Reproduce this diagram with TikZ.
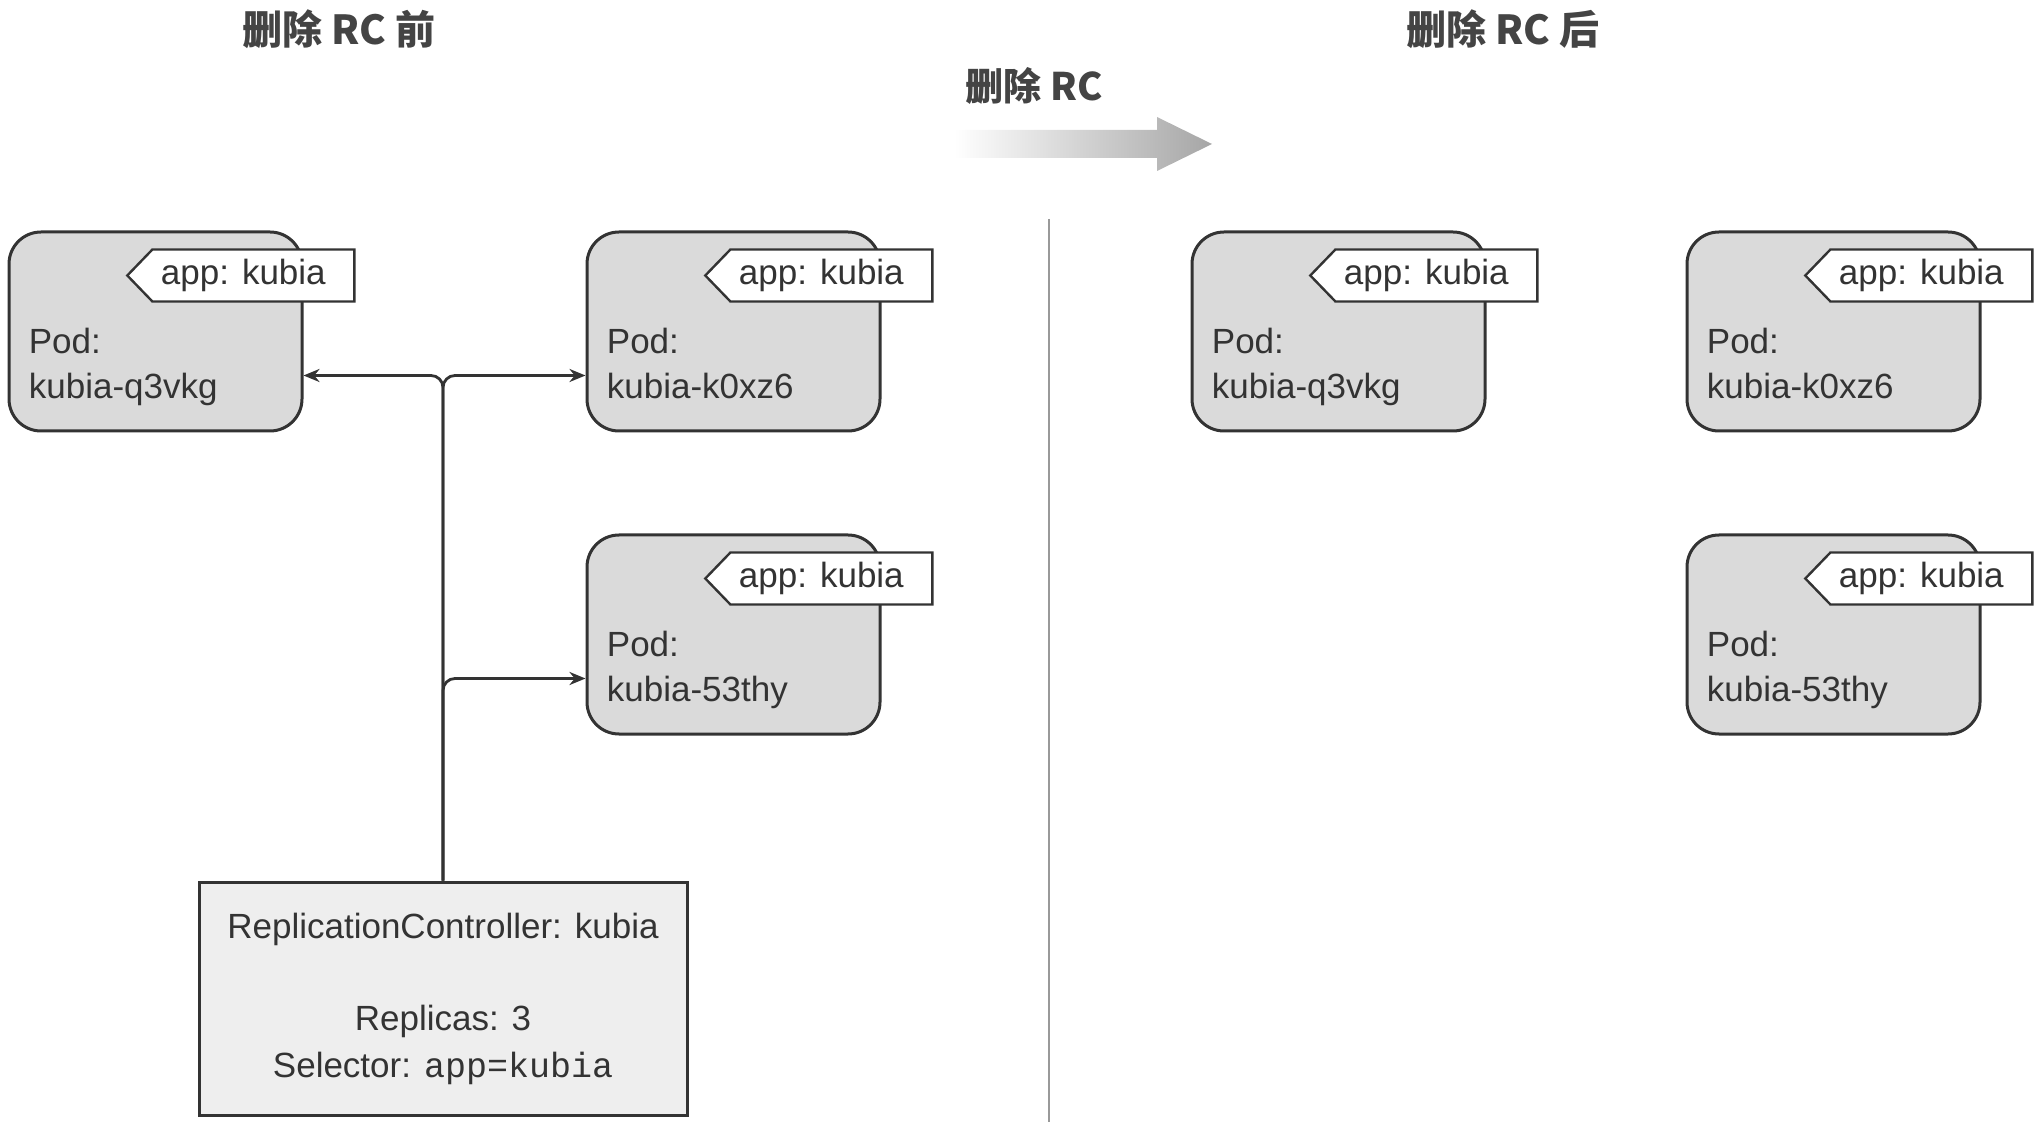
\documentclass[tikz,border=0pt]{standalone}
\usepackage{fontspec}
\setmainfont{Liberation Sans}
\setmonofont{Liberation Mono}
\newfontfamily\cjk{Noto Sans CJK SC}
\usetikzlibrary{shapes.symbols, arrows.meta, positioning, calc}
\definecolor{inkgray}{RGB}{51,51,51}
\definecolor{podgray}{RGB}{218,218,218}
\definecolor{rcgray}{RGB}{238,238,238}
\definecolor{titlegray}{RGB}{68,68,68}

\begin{document}
\begin{tikzpicture}[
        x=0.5pt, y=-0.5pt,
        node distance=141pt,
        every node/.style={text=inkgray},
        pod/.style={rectangle, rounded corners=16pt, draw=inkgray, line width=1.5pt, fill=podgray, minimum width=146.5pt, minimum height=99.5pt},
        podtext/.style={anchor=west, align=left, inner sep=0pt, text depth=0pt, font=\fontsize{17.5}{22.5}\selectfont},
        tag/.style={signal, signal to=west, signal pointer angle=92, draw=inkgray, line width=1.2pt, fill=white, minimum width=113.5pt, minimum height=26pt, inner sep=0pt, font=\fontsize{17.5}{21}\selectfont},
        rcbox/.style={rectangle, draw=inkgray, line width=1.5pt, fill=rcgray, minimum width=244pt, minimum height=116.5pt, align=center, font=\fontsize{17.5}{23.5}\selectfont},
        title/.style={font=\cjk\bfseries\fontsize{20}{24}\selectfont, text=titlegray},
        link/.style={-{Stealth[length=8pt, width=6.5pt]}, line width=1.4pt, draw=inkgray, rounded corners=6pt}
    ]
        \useasboundingbox (0,0) rectangle (2040,1122);

        \node[title] (before) at (339,29) {删除 RC 前};
        \node[title] (after) at (1503,29) {删除 RC 后};
        \node[title, font=\cjk\bfseries\fontsize{19}{23}\selectfont] (action) at (1034,86) {删除 RC};

        % fading arrow and divider
        \shade[left color=white, right color=black!35] (954,130) -- (1157,130) -- (1157,117) -- (1212,144) -- (1157,171) -- (1157,158) -- (954,158) -- cycle;
        \draw[black!40, line width=1.3pt] (1049,219) -- (1049,1122);

        % pods before
        \node[pod] (podA) at (155.5,331.5) {};
        \node[pod, right=of podA] (podB) {};
        \node[pod, below=50.5pt of podB] (podC) {};
        % pods after
        \node[pod] (podA2) at (1338.5,331.5) {};
        \node[pod, right=99.5pt of podA2] (podB2) {};
        \node[pod, below=50.5pt of podB2] (podC2) {};

        \foreach \p/\n in {podA/q3vkg, podB/k0xz6, podC/53thy, podA2/q3vkg, podB2/k0xz6, podC2/53thy} {
            \node[tag, anchor=east] (\p-tag) at ($(\p.north east)+(52,45)$) {app: kubia\hspace*{10pt}};
            \node[podtext] (\p-txt) at ($(\p.west)+(21,32)$) {Pod:\\kubia-\n};
        }

        \node[rcbox] (rc) at (443,998.5) {ReplicationController: kubia\\[22.5pt]Replicas: 3\\Selector: \texttt{app=kubia}};

        \draw[link] (rc.north) |- ($(podA.east)+(0,44)$);
        \draw[link] (rc.north) |- ($(podB.west)+(0,44)$);
        \draw[link] (rc.north) |- ($(podC.west)+(0,44)$);
    \end{tikzpicture}
\end{document}
